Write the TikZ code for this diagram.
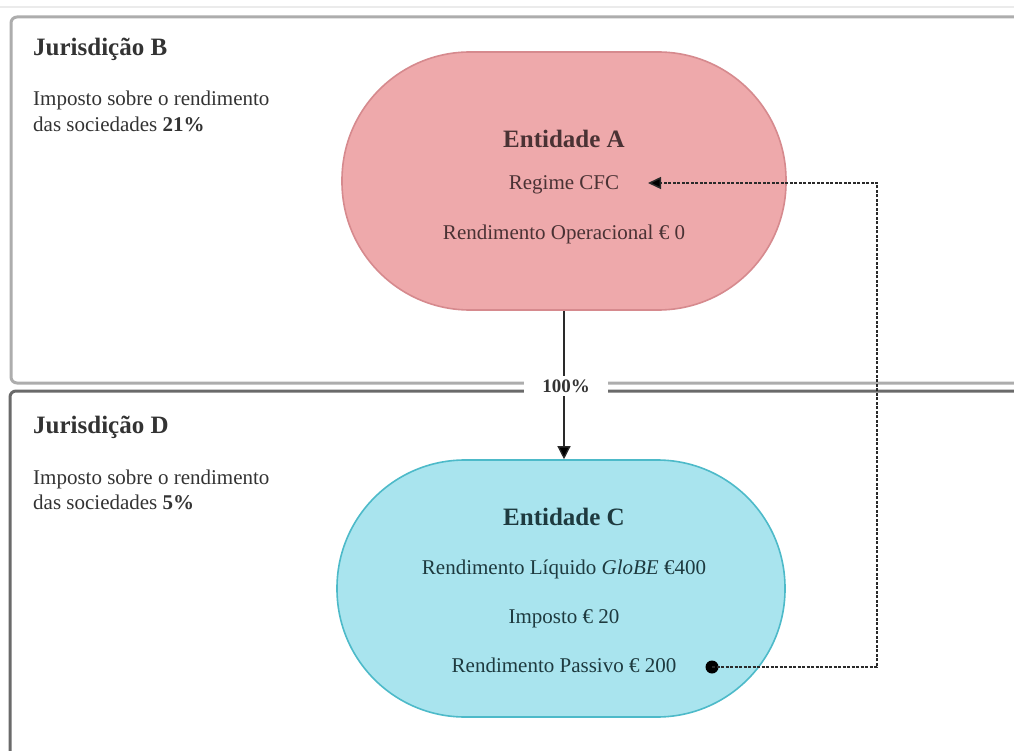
\documentclass[tikz,border=0pt]{standalone}
\usepackage{fontspec}
\setmainfont{Liberation Serif}
\usetikzlibrary{arrows.meta}
\definecolor{txt}{HTML}{333333}
\definecolor{txtA}{HTML}{4A3234}
\definecolor{txtC}{HTML}{1E3A3F}
\definecolor{fillA}{HTML}{EEA9AB}
\definecolor{drawA}{HTML}{D68A8E}
\definecolor{fillC}{HTML}{A9E4EE}
\definecolor{drawC}{HTML}{4DBAC9}
\definecolor{lineB}{HTML}{ADADAD}
\definecolor{lineD}{HTML}{6A6A6A}
\definecolor{conn}{HTML}{2A2A2A}
\tikzset{
  jbox/.style={line width=3pt, rounded corners=6pt},
  stadium/.style={rectangle, rounded corners=128pt, line width=1.6pt, inner sep=0pt},
  stadA/.style={stadium, fill=fillA, draw=drawA, minimum width=444pt, minimum height=258pt},
  stadC/.style={stadium, fill=fillC, draw=drawC, minimum width=448pt, minimum height=257pt},
  ttl/.style={anchor=base west, inner sep=0pt, text=txt, font=\fontsize{25}{30}\selectfont\bfseries},
  body/.style={anchor=base west, inner sep=0pt, text=txt, font=\fontsize{21}{26}\selectfont},
  entttl/.style={anchor=base, inner sep=0pt, font=\fontsize{25}{30}\selectfont\bfseries},
  entline/.style={anchor=base, inner sep=0pt, font=\fontsize{21}{26}\selectfont},
  solidarrow/.style={draw=conn, line width=1.3pt, -{Triangle[length=13pt,width=13pt,fill=black]}},
  dashconn/.style={draw=conn, line width=1.5pt, dash pattern=on 3pt off 1.5pt, -{Triangle[length=13pt,width=12pt,fill=black]}},
  dotnode/.style={circle, fill=black, minimum size=13pt, inner sep=0pt},
  pct/.style={fill=white, inner xsep=18pt, inner ysep=4pt, text=txt, font=\fontsize{19}{22}\selectfont\bfseries}
}
\begin{document}
\begin{tikzpicture}[x=1pt,y=-1pt]
\useasboundingbox (0,0) rectangle (1014,751);
\fill[white] (0,0) rectangle (1014,751);
\draw[color=black!8, line width=1.5pt] (0,7) -- (1014,7);
% jurisdiction frames
\draw[jbox, draw=lineB] (11,17) rectangle (1045,383);
\draw[jbox, draw=lineD] (10,391) rectangle (1045,790);
% jurisdiction texts
\node[ttl] (jB) at (33,56) {Jurisdição B};
\node[body] (jB1) at (33,106) {Imposto sobre o rendimento};
\node[body] (jB2) at (33,132) {das sociedades \textbf{21\%}};
\node[ttl] (jD) at (33,433) {Jurisdição D};
\node[body] (jD1) at (33,484) {Imposto sobre o rendimento};
\node[body] (jD2) at (33,509) {das sociedades \textbf{5\%}};
% entity A
\node[stadA] (A) at (564,181) {};
\node[entttl, text=txtA] (Attl) at (564,148) {Entidade A};
\node[entline, text=txtA] (rcfc) at (564,190) {Regime CFC};
\node[entline, text=txtA] (rop) at (564,240) {Rendimento Operacional € 0};
% entity C
\node[stadC] (C) at (561,588.5) {};
\node[entttl, text=txtC] (Cttl) at (564,525) {Entidade C};
\node[entline, text=txtC] (rliq) at (564,574) {Rendimento Líquido \textit{GloBE} €400};
\node[entline, text=txtC] (imp) at (564,623) {Imposto € 20};
\node[entline, text=txtC] (rpas) at (564,672) {Rendimento Passivo € 200};
% ownership arrow
\draw[solidarrow] (A.south) -- (A.south |- C.north);
\node[pct] (pctlab) at (566,386) {100\%};
% CFC dashed connector
\node[dotnode] (dot) at (712,667) {};
\coordinate (d1) at (877,667);
\coordinate (d2) at (877,183);
\coordinate (tipA) at (648,183);
\draw[dashconn] (dot.center) -- (d1) -- (d2) -- (tipA);
\end{tikzpicture}
\end{document}
